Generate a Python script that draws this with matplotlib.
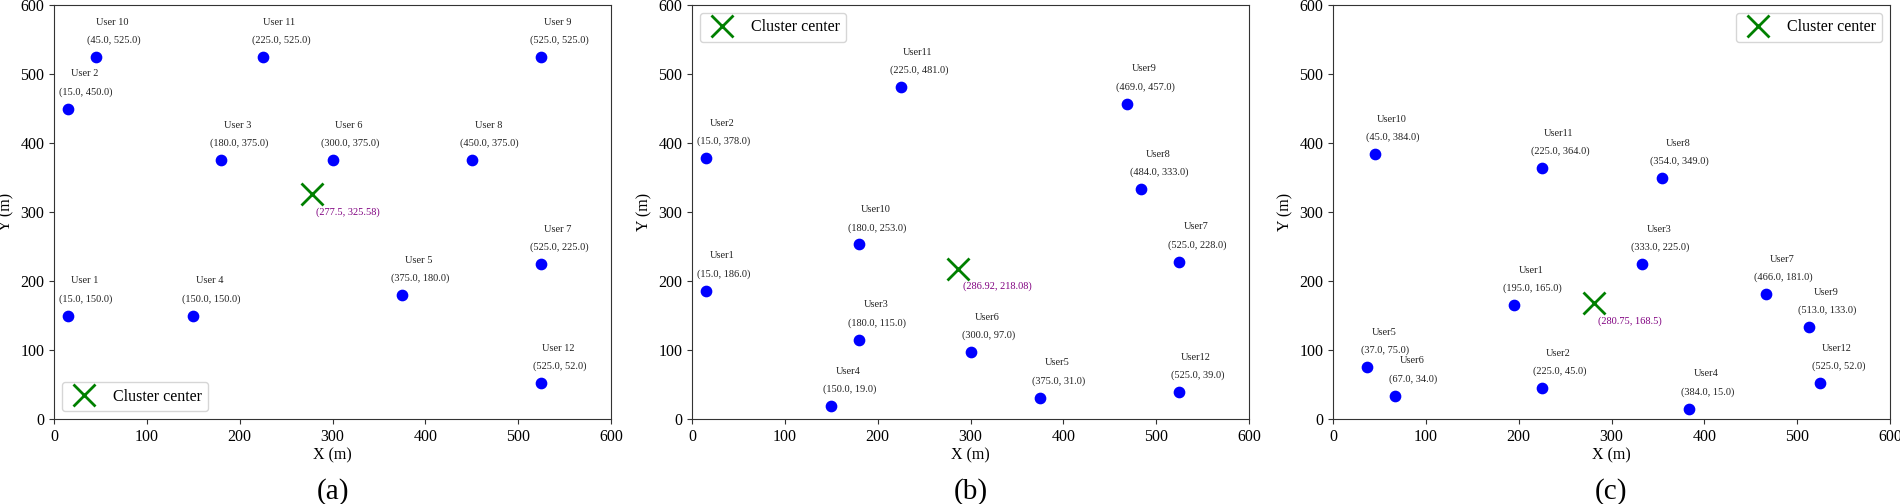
import matplotlib
matplotlib.use("Agg")
import matplotlib.pyplot as plt

plt.rcParams['font.family'] = ['Liberation Serif', 'DejaVu Serif']

# (a) users
xa = [15, 15, 180, 150, 375, 300, 525, 450, 525, 45, 225, 525]
ya = [150, 450, 375, 150, 180, 375, 225, 375, 525, 525, 525, 52]
ca = (277.5, 325.58)
# (b) users
xb = [15, 15, 180, 150, 375, 300, 525, 484, 469, 180, 225, 525]
yb = [186, 378, 115, 19, 31, 97, 228, 333, 457, 253, 481, 39]
cb = (286.92, 218.08)
# (c) users
xc = [195, 225, 333, 384, 37, 67, 466, 354, 513, 45, 225, 525]
yc = [165, 45, 225, 15, 75, 34, 181, 349, 133, 384, 364, 52]
cc = (280.75, 168.5)

panels = [
    (xa, ya, ca, "User {}", "lower left", "(a)"),
    (xb, yb, cb, "User{}", "upper left", "(b)"),
    (xc, yc, cc, "User{}", "upper right", "(c)"),
]

fig = plt.figure(figsize=(19, 5.04), dpi=100)
lefts = [54 / 1900, 692 / 1900, 1333 / 1900]
w = 557 / 1900
bot = 85 / 504
hgt = 414 / 504

for left, (xs, ys, cen, fmt, loc, tag) in zip(lefts, panels):
    ax = fig.add_axes([left, bot, w, hgt])
    ax.scatter(xs, ys, s=55, color='blue', zorder=3)
    for i, (x, y) in enumerate(zip(xs, ys)):
        ax.annotate(fmt.format(i + 1), (x, y), xytext=(12, 25), textcoords='offset points',
                    ha='center', va='center', fontsize=7.5, color='#222222')
        ax.annotate("({:.1f}, {:.1f})".format(x, y), (x, y), xytext=(13, 12),
                    textcoords='offset points', ha='center', va='center',
                    fontsize=7.5, color='#222222')
    ax.plot(cen[0], cen[1], 'x', color='green', markersize=16, markeredgewidth=2,
            linestyle='none', label='Cluster center', zorder=4)
    ax.annotate("({}, {})".format(cen[0], cen[1]), cen, xytext=(3, -13),
                textcoords='offset points', ha='left', va='center',
                fontsize=7.5, color='purple')
    ax.set_xlim(0, 600)
    ax.set_ylim(0, 600)
    ax.set_xticks([0, 100, 200, 300, 400, 500, 600])
    ax.set_yticks([0, 100, 200, 300, 400, 500, 600])
    ax.tick_params(labelsize=11.5, color='#333333')
    for sp in ax.spines.values():
        sp.set_color('#333333')
    ax.set_xlabel("X (m)", fontsize=11.5, labelpad=2)
    ax.set_ylabel("Y (m)", fontsize=11.5)
    ax.legend(loc=loc, fontsize=11.5, markerscale=1.0)
    ax.text(0.5, -0.174, tag, transform=ax.transAxes, ha='center', va='center', fontsize=21)

fig.savefig("out.png", dpi=100)
